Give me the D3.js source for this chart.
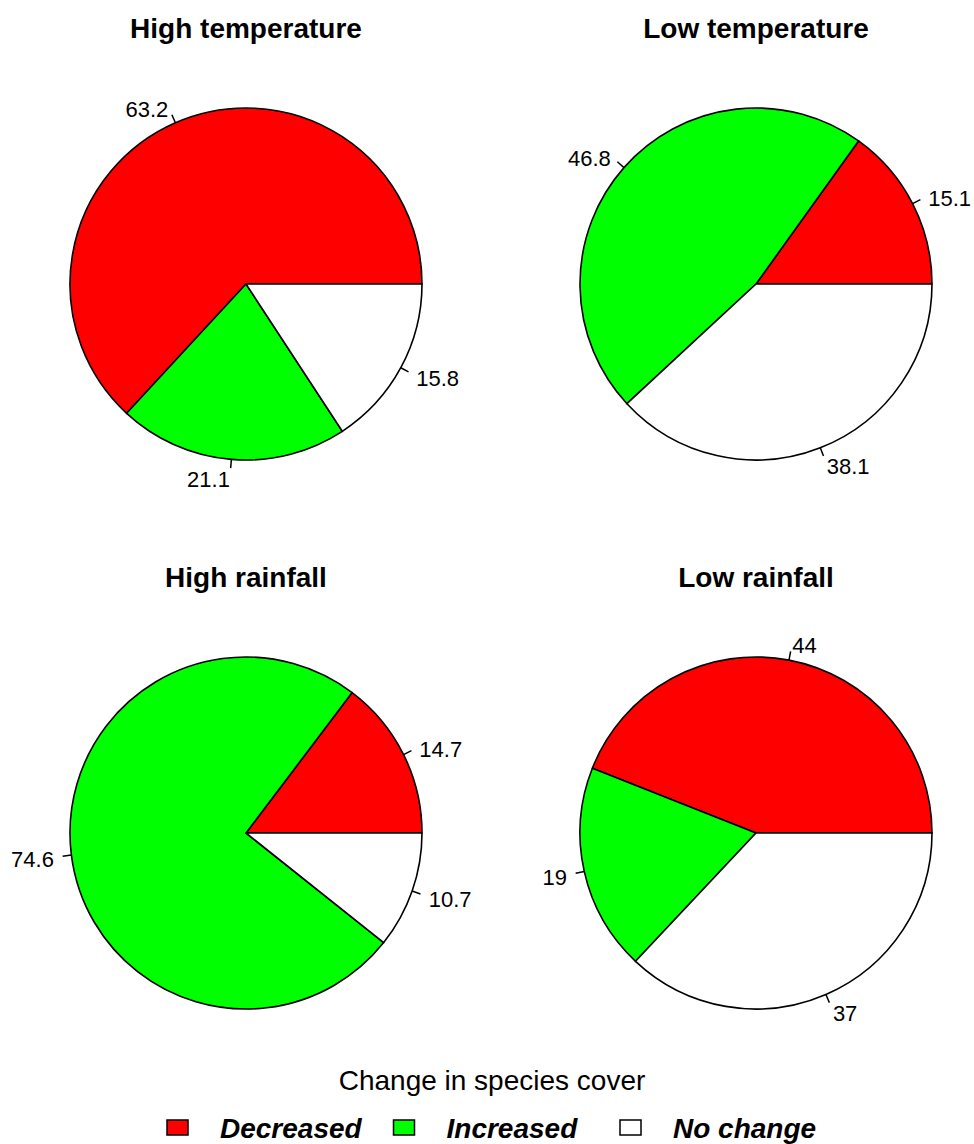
<!DOCTYPE html>
<html>
<head>
<meta charset="utf-8">
<script src="https://cdn.jsdelivr.net/npm/d3@7"></script>
<style>
html,body{margin:0;padding:0;background:#fff;}
svg{display:block;font-family:"Liberation Sans",Arial,sans-serif;}
</style>
</head>
<body>
<svg id="chart" width="974" height="1144"></svg>
<script>
const titles = ["High temperature", "Low temperature", "High rainfall", "Low rainfall"];
const categories = ["Decreased", "Increased", "No change"];
const decreased = [63.2, 15.1, 14.7, 44];
const increased = [21.1, 46.8, 74.6, 19];
const noChange = [15.8, 38.1, 10.7, 37];
const legendTitle = "Change in species cover";
const colors = ["#ff0000", "#00ff00", "#ffffff"];

const svg = d3.select("#chart");
const R = 176;
const centers = [[246, 284], [756, 284], [246, 833], [756, 833]];
const titleY = [38, 38, 587, 587];

const color = d3.scaleOrdinal().domain(categories).range(colors);
const pie = d3.pie().sort(null).value(d => d.v)
  .startAngle(Math.PI / 2).endAngle(Math.PI / 2 - 2 * Math.PI);
const arc = d3.arc().innerRadius(0).outerRadius(R);

titles.forEach((t, i) => {
  const [cx, cy] = centers[i];
  const data = [
    {c: categories[0], v: decreased[i]},
    {c: categories[1], v: increased[i]},
    {c: categories[2], v: noChange[i]}
  ];
  svg.append("text").attr("x", cx).attr("y", titleY[i])
    .attr("text-anchor", "middle").attr("font-size", 28).attr("font-weight", "bold")
    .text(t);
  const g = svg.append("g").attr("transform", `translate(${cx},${cy})`);
  const arcs = pie(data);
  g.selectAll("path.slice").data(arcs).join("path")
    .attr("class", "slice")
    .attr("d", arc)
    .attr("fill", d => color(d.data.c))
    .attr("stroke", "#000").attr("stroke-width", 1.6).attr("stroke-linejoin", "round");
  arcs.forEach(d => {
    const a = (d.startAngle + d.endAngle) / 2;
    const sx = Math.sin(a), sy = -Math.cos(a);
    g.append("line")
      .attr("x1", sx * R).attr("y1", sy * R)
      .attr("x2", sx * R * 1.05).attr("y2", sy * R * 1.05)
      .attr("stroke", "#000").attr("stroke-width", 1.5);
    g.append("text")
      .attr("x", sx * R * 1.1)
      .attr("y", sy * R * 1.1 + 0.36 * 22 + 2)
      .attr("text-anchor", sx < 0 ? "end" : "start")
      .attr("font-size", 22)
      .text(d3.format("~g")(d.data.v));
  });
});

svg.append("text").attr("x", 492).attr("y", 1090)
  .attr("text-anchor", "middle").attr("font-size", 28).text(legendTitle);

const legX = d3.scalePoint().domain(categories).range([167, 620]);
const leg = svg.selectAll("g.leg").data(categories).join("g")
  .attr("class", "leg").attr("transform", d => `translate(${legX(d)},0)`);
leg.append("rect").attr("x", 0).attr("y", 1120).attr("width", 21).attr("height", 15)
  .attr("fill", d => color(d)).attr("stroke", "#000").attr("stroke-width", 1.5);
leg.append("text").attr("x", 53).attr("y", 1138)
  .attr("font-size", 28).attr("font-weight", "bold").attr("font-style", "italic")
  .text(d => d);
</script>
</body>
</html>
